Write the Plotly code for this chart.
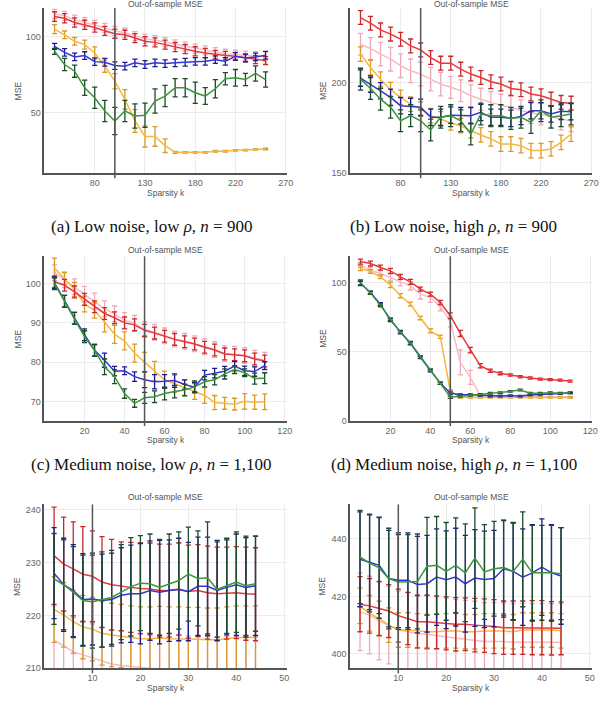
import plotly.graph_objects as go

# ---------------- data ----------------
k_a = [40, 50, 60, 70, 80, 90, 100, 110, 120, 130, 140, 150, 160, 170, 180, 190, 200, 210, 220, 230, 240, 250]
k_c = [5, 10, 15, 20, 25, 30, 35, 40, 45, 50, 55, 60, 65, 70, 75, 80, 85, 90, 95, 100, 105, 110]
k_e = [2, 4, 6, 8, 10, 12, 14, 16, 18, 20, 22, 24, 26, 28, 30, 32, 34, 36, 38, 40, 42, 44]

# panel (a)
red_a = [113.3, 112.2, 109.4, 107.9, 106.1, 103.9, 102.0, 101.3, 99.1, 97.0, 96.3, 94.8, 93.2, 91.9, 90.4, 89.3, 88.2, 87.6, 87.1, 86.0, 84.9, 84.3]
red_a_err = [3.2, 3.0, 3.0, 3.0, 3.0, 3.0, 3.0, 3.0, 3.0, 3.0, 3.0, 3.0, 3.0, 3.0, 3.0, 3.0, 2.8, 2.8, 2.6, 2.6, 2.6, 2.6]
pink_a = [115.0, 113.8, 111.2, 109.6, 107.8, 105.8, 103.8, 102.6, 100.4, 98.6, 97.8, 96.4, 95.0, 93.6, 92.2, 91.0, 89.8, 88.8, 88.2, 87.5, 87.2, 87.0]
pink_a_err = [3.0, 3.0, 3.0, 3.0, 3.0, 3.0, 3.0, 3.0, 3.0, 3.0, 3.0, 3.0, 3.0, 3.0, 3.0, 3.0, 3.0, 3.0, 3.0, 3.0, 3.0, 3.0]
orange_a = [105.0, 101.3, 97.0, 94.8, 89.3, 80.6, 70.7, 58.7, 44.5, 34.3, 34.3, 28.2, 23.8, 23.8, 23.8, 23.8, 24.5, 24.5, 25.1, 25.3, 25.8, 26.0]
orange_a_err = [3.0, 2.5, 2.5, 3.0, 4.0, 4.0, 5.0, 6.5, 7.5, 7.0, 6.5, 4.5, 0.6, 0.5, 0.5, 0.5, 0.5, 0.5, 0.5, 0.5, 0.5, 0.5]
blue_a = [93.7, 89.7, 86.7, 87.6, 83.6, 83.2, 81.0, 80.6, 82.8, 81.7, 82.8, 82.3, 82.8, 83.2, 83.8, 83.8, 84.9, 83.8, 87.1, 86.0, 86.7, 87.8]
blue_a_err = [2.0, 2.5, 2.5, 2.5, 2.5, 2.5, 2.5, 2.5, 2.5, 2.5, 2.5, 2.5, 2.5, 2.5, 2.5, 2.5, 2.5, 2.5, 2.5, 2.5, 2.5, 2.5]
green_a = [90.4, 81.7, 77.3, 66.4, 59.8, 51.1, 44.5, 51.1, 47.8, 48.3, 57.6, 60.9, 66.4, 66.4, 63.1, 60.9, 65.7, 72.3, 72.9, 71.8, 75.8, 71.8]
green_a_err = [2.0, 4.0, 4.0, 5.0, 7.0, 7.0, 9.0, 7.0, 8.0, 8.0, 8.0, 7.0, 6.0, 6.0, 7.0, 5.5, 6.0, 4.0, 5.5, 4.0, 5.0, 5.0]

# panel (b)
red_b = [235.7, 232.6, 228.9, 226.6, 223.8, 220.1, 217.9, 213.7, 210.6, 210.6, 207.3, 204.6, 202.7, 200.4, 199.1, 196.7, 196.0, 193.6, 192.7, 190.8, 189.0, 188.6]
red_b_err = [3.8, 3.8, 3.8, 3.8, 3.8, 3.8, 3.8, 3.8, 3.8, 3.8, 3.8, 3.8, 3.8, 3.8, 3.8, 3.8, 3.8, 3.8, 3.8, 3.8, 3.8, 3.8]
pink_b = [221.0, 218.7, 215.6, 212.8, 209.2, 206.4, 204.6, 201.8, 199.1, 197.3, 195.4, 192.7, 190.8, 189.0, 187.5, 186.3, 184.4, 183.5, 182.6, 181.3, 179.9, 178.9]
pink_b_err = [6.0, 6.0, 6.5, 6.5, 6.5, 6.5, 6.5, 6.5, 6.5, 6.0, 6.0, 6.0, 6.0, 6.0, 6.0, 6.0, 6.0, 6.0, 6.0, 6.0, 6.0, 6.0]
orange_b = [215.6, 208.2, 201.8, 196.0, 191.8, 188.1, 185.3, 181.7, 179.9, 177.7, 176.2, 173.4, 171.1, 168.9, 166.1, 166.1, 165.2, 162.5, 162.5, 163.4, 167.0, 171.6]
orange_b_err = [4.0, 4.0, 4.0, 4.0, 4.0, 4.0, 4.0, 4.0, 4.0, 4.0, 4.0, 4.0, 4.0, 4.0, 4.0, 4.0, 4.0, 4.0, 4.0, 4.0, 4.0, 4.0]
blue_b = [202.4, 199.1, 195.4, 191.8, 187.2, 186.8, 186.3, 180.8, 180.8, 182.0, 181.7, 181.7, 183.5, 180.8, 180.8, 180.2, 181.3, 184.4, 184.4, 182.6, 184.1, 183.9]
blue_b_err = [4.5, 4.5, 4.5, 4.5, 4.5, 4.5, 4.5, 4.5, 4.5, 4.5, 4.5, 4.5, 4.5, 4.5, 4.5, 4.5, 4.5, 4.5, 4.5, 4.5, 4.5, 4.5]
green_b = [201.8, 196.7, 190.8, 186.3, 178.9, 181.7, 178.9, 173.8, 180.8, 181.7, 178.9, 171.6, 182.6, 181.7, 181.7, 180.2, 180.8, 178.0, 184.4, 180.8, 181.7, 182.6]
green_b_err = [6.0, 6.0, 6.0, 6.0, 6.0, 6.0, 6.0, 6.0, 6.0, 6.0, 6.0, 6.0, 6.0, 6.0, 6.0, 6.0, 6.0, 6.0, 6.0, 6.0, 6.0, 6.0]

# panel (c)
red_c = [100.5, 99.6, 97.9, 96.0, 94.1, 92.4, 91.3, 90.0, 89.5, 88.1, 87.4, 86.6, 85.8, 85.2, 84.6, 83.8, 83.1, 82.1, 81.9, 81.6, 80.8, 80.3]
red_c_err = [1.5, 1.5, 1.5, 1.5, 1.5, 1.5, 1.5, 1.5, 1.5, 1.5, 1.5, 1.5, 1.5, 1.5, 1.5, 1.5, 1.5, 1.5, 1.5, 1.5, 1.5, 1.5]
pink_c = [102.8, 101.0, 99.2, 97.3, 95.6, 93.6, 92.3, 90.6, 89.9, 88.3, 87.6, 86.7, 85.9, 85.3, 84.7, 83.9, 83.2, 82.2, 82.0, 81.7, 81.0, 80.5]
pink_c_err = [2.0, 2.0, 2.0, 2.0, 2.0, 2.0, 2.0, 2.0, 2.0, 2.0, 2.0, 2.0, 2.0, 2.0, 2.0, 2.0, 2.0, 2.0, 2.0, 2.0, 2.0, 2.0]
orange_c = [104.0, 101.3, 98.5, 94.8, 93.2, 90.2, 87.1, 85.4, 82.3, 80.0, 77.7, 75.5, 74.5, 73.5, 72.5, 71.5, 69.7, 69.5, 69.3, 70.0, 69.8, 69.9]
orange_c_err = [2.5, 1.5, 1.8, 2.0, 2.0, 2.5, 2.3, 2.3, 2.3, 2.5, 2.5, 2.2, 2.2, 2.0, 2.0, 2.0, 1.8, 1.5, 1.5, 2.0, 1.8, 2.0]
blue_c = [100.2, 95.5, 91.2, 87.0, 83.0, 80.5, 77.7, 77.8, 76.3, 75.5, 75.0, 75.1, 75.3, 74.3, 73.6, 76.7, 77.2, 77.7, 79.0, 77.8, 77.6, 79.1]
blue_c_err = [1.5, 1.5, 1.5, 1.5, 1.5, 1.8, 1.2, 1.0, 1.2, 2.0, 1.8, 1.7, 1.7, 1.2, 1.2, 1.2, 1.2, 1.2, 1.2, 1.2, 1.2, 1.0]
green_c = [100.0, 95.5, 91.2, 86.5, 83.0, 78.8, 76.3, 72.0, 69.5, 70.9, 71.2, 72.0, 72.5, 72.9, 73.7, 75.0, 75.5, 77.0, 78.1, 77.3, 75.8, 75.9]
green_c_err = [1.5, 1.5, 1.5, 1.5, 1.5, 2.0, 1.8, 1.2, 1.0, 1.4, 1.5, 1.6, 1.6, 1.5, 1.5, 1.3, 1.3, 1.3, 1.0, 1.0, 1.4, 1.4]

# panel (d)
red_d = [115.1, 113.7, 110.8, 108.4, 104.1, 100.5, 95.2, 91.6, 85.6, 76.0, 63.2, 51.2, 39.9, 36.3, 34.4, 33.2, 32.0, 31.0, 30.3, 29.8, 29.6, 28.8]
red_d_err = [1.8, 1.8, 1.8, 1.8, 1.8, 1.8, 1.5, 1.5, 1.5, 2.0, 2.2, 2.0, 1.5, 1.2, 1.0, 0.8, 0.8, 0.8, 0.7, 0.7, 0.7, 0.7]
pink_d = [112.7, 108.9, 106.5, 103.6, 100.5, 97.6, 91.6, 89.2, 82.5, 71.9, 42.3, 31.5, 18.3, 18.0, 17.8, 17.6, 17.5, 17.5, 17.4, 17.4, 17.3, 17.3]
pink_d_err = [2.0, 2.0, 2.0, 2.5, 3.0, 3.0, 3.5, 3.5, 3.0, 4.0, 9.0, 5.0, 1.0, 0.5, 0.5, 0.5, 0.5, 0.5, 0.5, 0.5, 0.5, 0.5]
orange_d = [110.3, 107.9, 104.1, 98.3, 90.4, 84.4, 74.3, 65.1, 60.8, 21.4, 17.1, 17.0, 17.0, 17.0, 17.0, 17.0, 17.0, 17.0, 17.0, 17.0, 17.0, 17.0]
orange_d_err = [1.8, 1.3, 1.3, 2.0, 1.5, 1.5, 1.2, 1.5, 1.2, 1.0, 0.5, 0.5, 0.5, 0.5, 0.5, 0.5, 0.5, 0.5, 0.5, 0.5, 0.5, 0.5]
blue_d = [99.3, 92.8, 84.4, 72.8, 64.4, 56.0, 45.9, 36.3, 27.2, 20.2, 19.0, 19.0, 18.5, 18.0, 18.0, 18.3, 18.0, 18.8, 19.2, 19.7, 19.7, 20.2]
blue_d_err = [1.5, 1.0, 1.0, 1.0, 1.0, 1.0, 0.8, 0.8, 0.8, 0.8, 0.5, 0.5, 0.5, 0.5, 0.5, 0.5, 0.5, 0.5, 0.5, 0.5, 0.5, 0.5]
green_d = [100.0, 92.5, 83.5, 73.5, 64.0, 56.5, 46.2, 36.8, 27.2, 17.1, 17.8, 18.5, 19.2, 20.0, 20.4, 21.4, 22.4, 20.0, 20.0, 20.4, 20.0, 20.4]
green_d_err = [1.8, 1.0, 1.0, 1.0, 1.0, 1.0, 0.8, 0.8, 0.8, 0.8, 0.6, 0.6, 0.6, 0.6, 0.6, 0.6, 0.6, 0.6, 0.6, 0.6, 0.6, 0.6]

# panel (e)
red_e = [231.3, 229.7, 228.8, 227.8, 227.4, 226.3, 225.8, 225.5, 225.3, 225.1, 225.0, 224.7, 224.7, 225.0, 224.5, 224.7, 224.3, 224.1, 224.2, 224.3, 224.1, 224.0]
red_e_err = [9.2, 8.9, 8.9, 9.0, 8.6, 8.6, 8.6, 8.4, 8.5, 8.6, 8.7, 8.8, 8.8, 8.7, 8.8, 8.7, 8.8, 8.8, 8.7, 8.7, 8.8, 8.8]
pink_e = [215.3, 214.3, 213.1, 212.5, 211.9, 211.3, 210.8, 210.5, 210.3, 210.1, 210.0, 209.9, 209.8, 209.7, 209.6, 209.6, 209.5, 209.5, 209.5, 209.4, 209.4, 209.4]
pink_e_err = [6.5, 6.5, 6.5, 6.5, 6.5, 6.5, 6.5, 6.5, 6.5, 6.5, 6.5, 6.5, 6.5, 6.5, 6.5, 6.5, 6.5, 6.5, 6.5, 6.5, 6.5, 6.5]
orange_e = [221.1, 220.1, 218.8, 217.8, 217.4, 216.6, 216.3, 216.1, 215.8, 215.6, 215.6, 215.7, 215.6, 215.6, 215.5, 215.5, 215.4, 215.4, 215.6, 215.8, 215.8, 215.8]
orange_e_err = [6.2, 6.1, 6.0, 6.0, 6.0, 6.0, 6.0, 6.0, 6.0, 6.0, 6.0, 6.0, 6.0, 6.0, 6.0, 6.0, 6.0, 6.0, 6.0, 6.0, 6.0, 6.0]
blue_e = [228.0, 225.8, 224.7, 223.0, 223.1, 222.8, 223.0, 223.8, 224.1, 224.1, 224.7, 224.4, 224.7, 224.9, 224.5, 225.5, 225.5, 224.7, 225.3, 225.8, 225.3, 225.6]
blue_e_err = [8.6, 8.8, 8.7, 8.7, 8.7, 8.8, 8.8, 9.0, 9.2, 9.5, 9.4, 9.8, 9.6, 9.7, 9.3, 9.3, 9.3, 9.5, 9.0, 9.6, 9.4, 9.4]
green_e = [226.9, 225.8, 224.4, 222.8, 222.6, 223.0, 223.4, 224.4, 225.4, 226.1, 226.0, 225.3, 226.0, 226.6, 227.8, 227.0, 227.1, 224.9, 225.6, 226.3, 225.6, 226.0]
green_e_err = [8.6, 8.5, 8.6, 8.6, 8.8, 9.0, 8.9, 9.0, 9.3, 9.0, 9.4, 9.1, 9.4, 9.2, 8.9, 9.0, 10.6, 9.0, 9.0, 9.5, 9.4, 9.0]

# panel (f)
red_f = [417.3, 416.7, 415.8, 414.9, 413.3, 412.3, 411.2, 411.2, 411.0, 410.6, 410.3, 410.3, 410.0, 409.8, 409.5, 409.1, 409.1, 409.1, 409.1, 409.1, 408.9, 408.9]
red_f_err = [9.6, 9.5, 9.4, 9.2, 9.2, 9.1, 9.1, 9.2, 9.2, 9.2, 9.3, 9.2, 9.3, 9.3, 9.4, 9.3, 9.3, 9.3, 9.4, 9.4, 9.3, 9.2]
pink_f = [414.6, 413.5, 411.4, 410.0, 408.3, 407.7, 407.1, 406.8, 406.3, 406.0, 405.4, 405.1, 404.8, 404.3, 404.3, 404.3, 404.0, 404.0, 404.0, 404.0, 404.0, 404.0]
pink_f_err = [13.5, 13.5, 13.5, 13.5, 13.5, 13.5, 13.5, 13.5, 13.5, 13.5, 13.5, 13.5, 13.5, 13.5, 13.5, 13.5, 13.5, 13.5, 13.5, 13.5, 13.5, 13.5]
orange_f = [416.7, 414.1, 412.3, 410.0, 408.3, 408.3, 408.0, 407.7, 407.7, 408.0, 408.0, 407.7, 407.7, 408.0, 408.0, 408.0, 407.7, 408.3, 408.3, 408.3, 408.3, 408.0]
orange_f_err = [6.2, 6.2, 6.0, 6.0, 6.0, 6.0, 6.0, 6.0, 6.0, 6.0, 6.0, 6.0, 6.0, 6.0, 6.0, 6.0, 6.0, 6.0, 6.0, 6.0, 6.0, 6.0]
blue_f = [432.9, 431.9, 430.8, 426.2, 425.6, 425.6, 424.1, 424.4, 426.7, 425.8, 426.7, 424.4, 426.4, 425.9, 426.2, 429.6, 428.7, 426.7, 428.2, 430.2, 428.2, 427.1]
blue_f_err = [16.5, 16.5, 16.8, 16.8, 16.5, 16.5, 16.8, 16.8, 16.8, 17.0, 17.0, 16.8, 16.8, 16.8, 16.8, 16.8, 16.8, 16.8, 16.8, 16.8, 16.8, 16.8]
green_f = [433.7, 431.6, 429.9, 426.2, 425.0, 425.0, 425.2, 430.5, 430.8, 428.7, 430.8, 428.2, 433.3, 428.5, 429.6, 430.0, 428.7, 432.9, 428.2, 428.2, 428.2, 427.9]
green_f_err = [16.2, 17.0, 17.5, 17.5, 16.5, 16.5, 16.5, 17.0, 17.0, 17.0, 16.5, 17.0, 17.5, 16.5, 16.5, 16.5, 17.0, 16.5, 16.5, 16.5, 16.5, 16.0]

# axis settings per panel
x_ticks_ab = [80, 130, 180, 220, 270]
x_ticks_cd = [20, 40, 60, 80, 100, 120]
x_ticks_ef = [10, 20, 30, 40, 50]
y_ticks_a = [50, 100]
y_ticks_b = [150, 200]
y_ticks_c = [70, 80, 90, 100]
y_ticks_d = [0, 50, 100]
y_ticks_e = [210, 220, 230, 240]
y_ticks_f = [400, 420, 440]
vlines = [100, 100, 50, 50, 10, 10]

captions = [
    "(a) Low noise, low <i>ρ</i>, <i>n</i> = 900",
    "(b) Low noise, high <i>ρ</i>, <i>n</i> = 900",
    "(c) Medium noise, low <i>ρ</i>, <i>n</i> = 1,100",
    "(d) Medium noise, high <i>ρ</i>, <i>n</i> = 1,100",
]

# ---------------- styling ----------------
W, H = 612, 707
COLORS = {
    "pink": ("#f6bcc8", "#ebaab8"),
    "orange": ("#f5b73d", "#d99a2b"),
    "red": ("#e8383b", "#c7282c"),
    "blue": ("#3535d8", "#1c1c8c"),
    "green": ("#3a963a", "#1d4a2a"),
}
ORDER = ["pink", "orange", "red", "blue", "green"]

panels = [
    dict(k=k_a, s=dict(pink=(pink_a, pink_a_err), orange=(orange_a, orange_a_err), red=(red_a, red_a_err), blue=(blue_a, blue_a_err), green=(green_a, green_a_err)),
         xr=[30, 271], xt=x_ticks_ab, yr=[10, 119], yt=y_ticks_a),
    dict(k=k_a, s=dict(pink=(pink_b, pink_b_err), orange=(orange_b, orange_b_err), red=(red_b, red_b_err), blue=(blue_b, blue_b_err), green=(green_b, green_b_err)),
         xr=[30, 271], xt=x_ticks_ab, yr=[150, 241], yt=y_ticks_b),
    dict(k=k_c, s=dict(pink=(pink_c, pink_c_err), orange=(orange_c, orange_c_err), red=(red_c, red_c_err), blue=(blue_c, blue_c_err), green=(green_c, green_c_err)),
         xr=[0, 121], xt=x_ticks_cd, yr=[65, 107], yt=y_ticks_c),
    dict(k=k_c, s=dict(pink=(pink_d, pink_d_err), orange=(orange_d, orange_d_err), red=(red_d, red_d_err), blue=(blue_d, blue_d_err), green=(green_d, green_d_err)),
         xr=[0, 121], xt=x_ticks_cd, yr=[0, 119], yt=y_ticks_d),
    dict(k=k_e, s=dict(pink=(pink_e, pink_e_err), orange=(orange_e, orange_e_err), red=(red_e, red_e_err), blue=(blue_e, blue_e_err), green=(green_e, green_e_err)),
         xr=[0, 50.5], xt=x_ticks_ef, yr=[210, 241], yt=y_ticks_e),
    dict(k=k_e, s=dict(pink=(pink_f, pink_f_err), orange=(orange_f, orange_f_err), red=(red_f, red_f_err), blue=(blue_f, blue_f_err), green=(green_f, green_f_err)),
         xr=[0, 50.5], xt=x_ticks_ef, yr=[395, 452], yt=y_ticks_f),
]

col_px = [(45, 290), (354.5, 599)]
row_px = [(8, 174.5), (258, 424), (508, 673)]
title_y_px = [4.5, 251.5, 501]
xlabel_y_px = [194, 443, 693]
mse_x_px = [18, 326]

fig = go.Figure()
layout = dict(
    width=W, height=H, margin=dict(l=0, r=0, t=0, b=0),
    paper_bgcolor="white", plot_bgcolor="white", showlegend=False,
    font=dict(family="Liberation Sans, Arial, sans-serif", color="#555"),
)
annotations = []
shapes = []
lab_font = dict(family="Liberation Sans, Arial, sans-serif", size=8.5, color="#555")

for i, p in enumerate(panels):
    r, c = divmod(i, 2)
    n = i + 1
    xa = "x" if n == 1 else f"x{n}"
    ya = "y" if n == 1 else f"y{n}"
    x0, x1 = col_px[c]
    t0, t1 = row_px[r]
    for name in ORDER:
        vals, err = p["s"][name]
        lc, ec = COLORS[name]
        fig.add_trace(go.Scatter(
            x=p["k"], y=vals, mode="lines", xaxis=xa, yaxis=ya,
            line=dict(color=lc, width=1.5), cliponaxis=True,
            error_y=dict(type="data", array=err, visible=True, color=ec, thickness=1.3, width=2.6),
        ))
    axis_common = dict(showline=True, linecolor="#555", linewidth=2, showgrid=True,
                       gridcolor="#ececec", gridwidth=1, zeroline=False, ticks="",
                       tickfont=dict(family="Liberation Sans, Arial, sans-serif", size=9, color="#666"))
    layout["xaxis" if n == 1 else f"xaxis{n}"] = dict(
        axis_common, domain=[x0 / W, x1 / W], range=p["xr"], tickvals=p["xt"],
        anchor=ya)
    layout["yaxis" if n == 1 else f"yaxis{n}"] = dict(
        axis_common, domain=[1 - t1 / H, 1 - t0 / H], range=p["yr"], tickvals=p["yt"],
        anchor=xa)
    shapes.append(dict(type="line", xref=xa, yref=f"{ya} domain", x0=vlines[i], x1=vlines[i],
                       y0=-0.03, y1=1.0, line=dict(color="#555", width=1.5)))
    cx = (x0 + x1) / 2 / W
    annotations.append(dict(text="Out-of-sample MSE", x=cx, y=1 - title_y_px[r] / H, xref="paper", yref="paper",
                            showarrow=False, xanchor="center", yanchor="middle", font=lab_font))
    annotations.append(dict(text="Sparsity k", x=cx, y=1 - xlabel_y_px[r] / H, xref="paper", yref="paper",
                            showarrow=False, xanchor="center", yanchor="middle", font=lab_font))
    annotations.append(dict(text="MSE", x=mse_x_px[c] / W, y=1 - (t0 + t1) / 2 / H, xref="paper", yref="paper",
                            showarrow=False, xanchor="center", yanchor="middle", textangle=-90, font=lab_font))

cap_pos = [(153, 228), (459, 228), (153, 468), (459, 468)]
for txt, (cxp, cyp) in zip(captions, cap_pos):
    annotations.append(dict(text=txt, x=cxp / W, y=1 - cyp / H, xref="paper", yref="paper",
                            showarrow=False, xanchor="center", yanchor="middle",
                            font=dict(family="Liberation Serif, Times New Roman, serif", size=17, color="#111")))

layout["annotations"] = annotations
layout["shapes"] = shapes
fig.update_layout(**layout)
fig.write_html("out.html")
